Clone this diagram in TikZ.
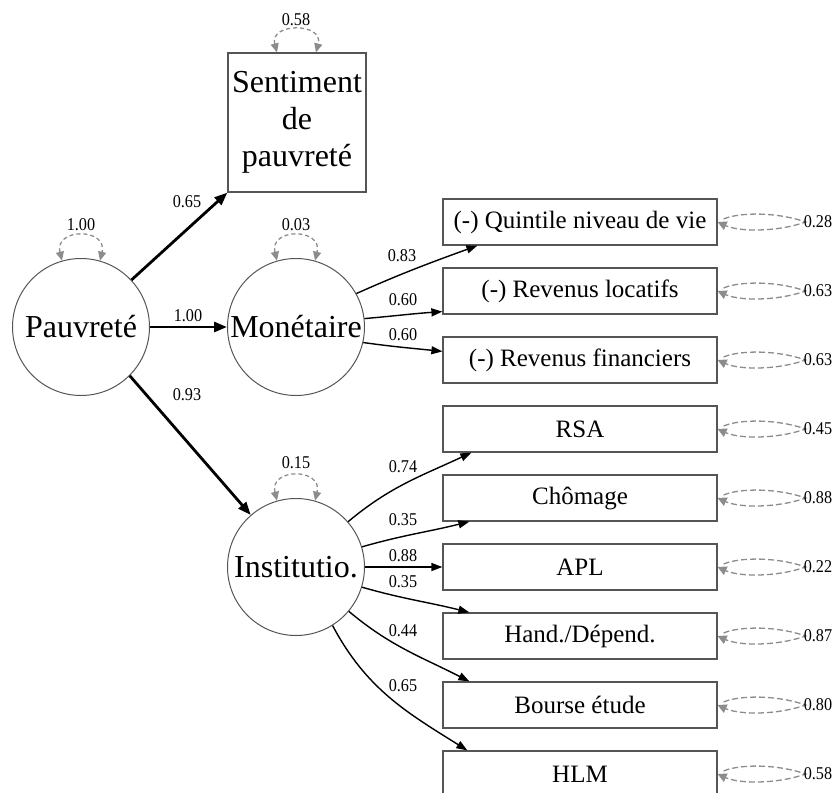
\documentclass[tikz,border=0pt]{standalone}
\usepackage{fontspec}
\setmainfont{Liberation Serif}
\newfontfamily\numfont[FakeStretch=0.9]{Liberation Serif}
\usetikzlibrary{arrows.meta,calc}

\definecolor{boxline}{HTML}{555555}
\definecolor{loopgray}{HTML}{8C8C8C}

\tikzset{
  latent/.style={circle, draw=boxline, line width=1pt, minimum size=137pt, inner sep=0pt,
                 font=\fontsize{32}{37}\selectfont},
  single/.style={rectangle, draw=boxline, line width=1.2pt, minimum width=138pt, minimum height=139pt,
                 inner sep=0pt, align=center, font=\fontsize{32}{37}\selectfont},
  indic/.style={rectangle, draw=boxline, line width=1.2pt, minimum width=274pt, minimum height=46pt,
                inner sep=0pt, font=\fontsize{25}{28}\selectfont},
  coef/.style={inner sep=0pt, font=\numfont\fontsize{18}{18}\selectfont},
  tip/.style={-{Triangle[length=11pt,width=8pt]}},
  mainpath/.style={-{Triangle[length=13pt,width=10pt]}, line width=2.8pt, black},
  loadpath/.style={tip, line width=1.4pt, black},
  tloop/.style={dashed, dash pattern=on 4pt off 3pt, loopgray, line width=1.3pt,
                {Triangle[length=9pt,width=8pt]}-{Triangle[length=9pt,width=8pt]}},
  rloop/.style={dashed, dash pattern=on 6pt off 3pt, loopgray, line width=1.3pt,
                -{Triangle[length=9pt,width=9pt]}},
}

\begin{document}
\begin{tikzpicture}[x=1pt,y=1pt]
\useasboundingbox (0,-793) rectangle (836,0);

% latent variables
\node[latent] (pauv) at (81,-327) {Pauvreté};
\node[latent] (mon)  at (296,-327) {Monétaire};
\node[latent] (inst) at (296,-567) {Institutio.};

% single indicator
\node[single] (sent) at (297,-122.5) {Sentiment\\de\\pauvreté};

% observed indicators
\node[indic] (q1) at (580,-222) {(-) Quintile niveau de vie};
\node[indic] (q2) at (580,-291) {(-) Revenus locatifs};
\node[indic] (q3) at (580,-360) {(-) Revenus financiers};
\node[indic] (i1) at (580,-429) {RSA};
\node[indic] (i2) at (580,-498) {Chômage};
\node[indic] (i3) at (580,-567) {APL};
\node[indic] (i4) at (580,-636) {Hand./Dépend.};
\node[indic] (i5) at (580,-705) {Bourse étude};
\node[indic] (i6) at (580,-774) {HLM};

% structural paths
\draw[mainpath] (pauv.43) -- (sent.south west);
\draw[mainpath] (pauv.east) -- (mon.west);
\draw[mainpath] (pauv.-45) -- (inst.131);
\node[coef] (c1) at (187,-202) {0.65};
\node[coef] (c2) at (188,-316) {1.00};
\node[coef] (c3) at (187,-395) {0.93};

% monetary loadings
\draw[loadpath] (mon.29) to[out=24,in=200] ([xshift=35pt]q1.south west);
\draw[loadpath] (mon.7) to[out=5,in=184] ([yshift=3pt]q2.south west);
\draw[loadpath] (mon.-13) to[out=-8,in=174] ([yshift=-15pt]q3.north west);
\node[coef] (c4) at (402,-256) {0.83};
\node[coef] (c5) at (403,-300) {0.60};
\node[coef] (c6) at (403,-335) {0.60};

% institutional loadings
\draw[loadpath] (inst.41) to[out=40,in=205] ([xshift=29pt]i1.south west);
\draw[loadpath] (inst.17) to[out=16,in=194] ([xshift=27pt]i2.south west);
\draw[loadpath] (inst.east) -- (i3.west);
\draw[loadpath] (inst.-17) to[out=-16,in=166] ([xshift=27pt]i4.north west);
\draw[loadpath] (inst.-40) to[out=-40,in=153] ([xshift=27pt]i5.north west);
\draw[loadpath] (inst.-58) to[out=-62,in=148] ([xshift=25pt]i6.north west);
\node[coef] (c7)  at (403,-467) {0.74};
\node[coef] (c8)  at (403,-520) {0.35};
\node[coef] (c9)  at (403,-556) {0.88};
\node[coef] (c10) at (403,-582) {0.35};
\node[coef] (c11) at (403,-631) {0.44};
\node[coef] (c12) at (403,-686) {0.65};

% variances on latent and single nodes
\draw[tloop] (pauv.106) .. controls +(-8,33) and +(8,33) .. (pauv.74);
\node[coef] (v1) at (81,-225) {1.00};
\draw[tloop] (mon.106) .. controls +(-8,33) and +(8,33) .. (mon.74);
\node[coef] (v2) at (296,-225) {0.03};
\draw[tloop] (inst.106) .. controls +(-8,33) and +(8,33) .. (inst.74);
\node[coef] (v3) at (296,-463) {0.15};
\draw[tloop] ($(sent.north)+(-20,0)$) .. controls +(-8,30) and +(8,30) .. ($(sent.north)+(19,0)$);
\node[coef] (v4) at (296,-20) {0.58};

% residual variances on observed indicators
\foreach \b/\v in {q1/0.28,q2/0.63,q3/0.63,i1/0.45,i2/0.88,i3/0.22,i4/0.87,i5/0.80,i6/0.58}{
  \draw[rloop] ($(\b.east)+(6,3)$) .. controls ($(\b.east)+(22,10)$) and ($(\b.east)+(60,10)$)
        .. ($(\b.east)+(88,0)$) .. controls ($(\b.east)+(60,-10)$) and ($(\b.east)+(22,-10)$)
        .. (\b.east);
  \node[coef, anchor=west] at ($(\b.east)+(86,0)$) {\v};
}
\end{tikzpicture}
\end{document}
